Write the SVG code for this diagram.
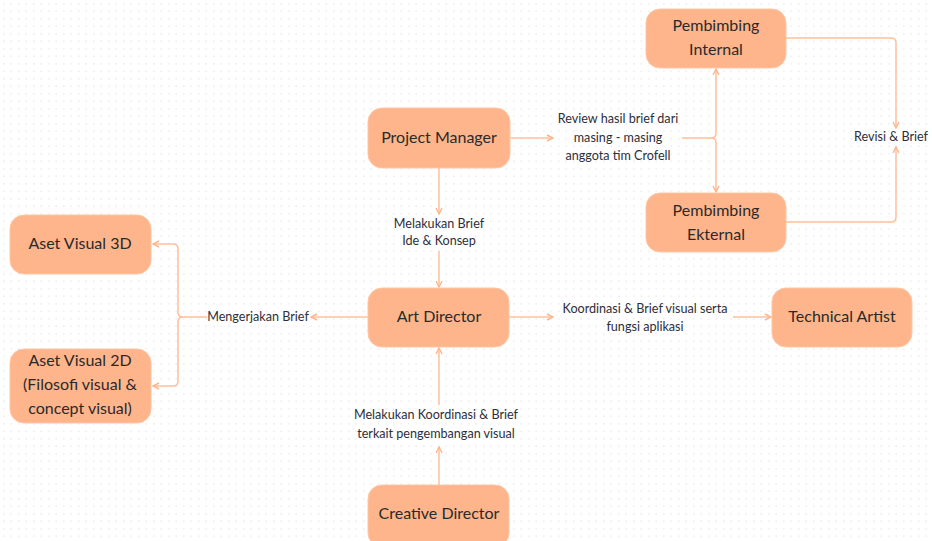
<svg xmlns="http://www.w3.org/2000/svg" width="932" height="541" viewBox="0 0 932 541">
<style>
.node rect{fill:#FFB58B;stroke:#FFC6A4;stroke-width:1}
.nt{font-family:Lato,"Open Sans","DejaVu Sans",sans-serif;font-size:16px;fill:#2a2a2a;text-anchor:middle}
.lt{font-family:Lato,"Open Sans","DejaVu Sans",sans-serif;font-size:12.6px;fill:#2e2e3a;text-anchor:middle}
.c path{fill:none;stroke:#FFC09C;stroke-width:1.5}
</style>
<defs>
<pattern id="dots" width="7.5" height="7.5" patternUnits="userSpaceOnUse">
<circle cx="3.75" cy="3.75" r="0.8" fill="#e4e4e4"/>
</pattern>
<marker id="ar" viewBox="0 0 8 8" refX="7" refY="4" markerWidth="8" markerHeight="8" markerUnits="userSpaceOnUse" orient="auto">
<path d="M1,1 L7,4 L1,7" fill="none" stroke="#FFB58B" stroke-width="1.4"/>
</marker>
</defs>
<rect width="932" height="541" fill="#ffffff"/>
<rect width="932" height="541" fill="url(#dots)"/>
<g class="c" id="connectors">
<path d="M510,138 H553" marker-end="url(#ar)"/>
<path d="M682,138 H711 Q716,138 716,133 V69" marker-end="url(#ar)"/>
<path d="M711,138 Q716,138 716,143 V192" marker-end="url(#ar)"/>
<path d="M786,38 H891 Q896,38 896,43 V128" marker-end="url(#ar)"/>
<path d="M786,222 H891 Q896,222 896,217 V147" marker-end="url(#ar)"/>
<path d="M439,168 V214" marker-end="url(#ar)"/>
<path d="M439,251 V287" marker-end="url(#ar)"/>
<path d="M368,317 H311" marker-end="url(#ar)"/>
<path d="M207,317 H183 Q178,317 178,312 V249 Q178,244 173,244 H153" marker-end="url(#ar)"/>
<path d="M183,317 Q178,317 178,322 V381 Q178,386 173,386 H153" marker-end="url(#ar)"/>
<path d="M509,317 H553" marker-end="url(#ar)"/>
<path d="M733,317 H771" marker-end="url(#ar)"/>
<path d="M439,485 V447" marker-end="url(#ar)"/>
<path d="M439,405 V348" marker-end="url(#ar)"/>
</g>
<g id="labels">
<text class="lt" x="618" y="123">Review hasil brief dari</text>
<text class="lt" x="618" y="142">masing - masing</text>
<text class="lt" x="618" y="160">anggota tim Crofell</text>
<text class="lt" x="891" y="141">Revisi &amp; Brief</text>
<text class="lt" x="439" y="228">Melakukan Brief</text>
<text class="lt" x="439" y="245">Ide &amp; Konsep</text>
<text class="lt" x="258" y="321">Mengerjakan Brief</text>
<text class="lt" x="645" y="313">Koordinasi &amp; Brief visual serta</text>
<text class="lt" x="645" y="331">fungsi aplikasi</text>
<text class="lt" x="436" y="419">Melakukan Koordinasi &amp; Brief</text>
<text class="lt" x="436" y="438">terkait pengembangan visual</text>
</g>
<g id="pembimbing-internal" class="node"><rect x="646" y="9" width="140" height="59" rx="14"/><text class="nt" x="716" y="31">Pembimbing</text><text class="nt" x="716" y="55">Internal</text></g>
<g id="pembimbing-eksternal" class="node"><rect x="646" y="193" width="140" height="59" rx="14"/><text class="nt" x="716" y="216">Pembimbing</text><text class="nt" x="716" y="240">Ekternal</text></g>
<g id="project-manager" class="node"><rect x="368" y="108" width="142" height="60" rx="14"/><text class="nt" x="439" y="143">Project Manager</text></g>
<g id="art-director" class="node"><rect x="368" y="288" width="141" height="59" rx="14"/><text class="nt" x="439" y="322">Art Director</text></g>
<g id="technical-artist" class="node"><rect x="772" y="288" width="140" height="59" rx="14"/><text class="nt" x="842" y="322">Technical Artist</text></g>
<g id="creative-director" class="node"><rect x="368" y="485" width="141" height="62" rx="14"/><text class="nt" x="439" y="519">Creative Director</text></g>
<g id="aset-3d" class="node"><rect x="10" y="215" width="141" height="59" rx="14"/><text class="nt" x="80" y="249">Aset Visual 3D</text></g>
<g id="aset-2d" class="node"><rect x="10" y="349" width="141" height="74" rx="14"/><text class="nt" x="80" y="366">Aset Visual 2D</text><text class="nt" x="80" y="390">(Filosofi visual &amp;</text><text class="nt" x="80" y="414">concept visual)</text></g>
</svg>
